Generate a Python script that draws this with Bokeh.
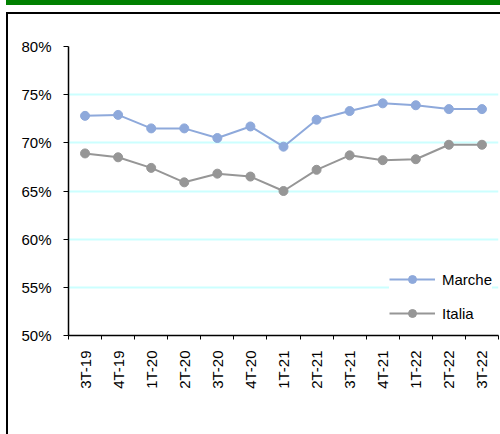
from bokeh.plotting import figure
from bokeh.models import FixedTicker, PrintfTickFormatter, Range1d, Legend, LegendItem
from bokeh.embed import file_html
from bokeh.resources import INLINE
from math import pi

quarters = ["3T-19", "4T-19", "1T-20", "2T-20", "3T-20", "4T-20", "1T-21",
            "2T-21", "3T-21", "4T-21", "1T-22", "2T-22", "3T-22"]
marche = [72.8, 72.9, 71.5, 71.5, 70.5, 71.7, 69.6, 72.4, 73.3, 74.1, 73.9, 73.5, 73.5]
italia = [68.9, 68.5, 67.4, 65.9, 66.8, 66.5, 65.0, 67.2, 68.7, 68.2, 68.3, 69.8, 69.8]
y_ticks = [50, 55, 60, 65, 70, 75, 80]

FONT = "Liberation Sans"
x = [i + 0.5 for i in range(len(quarters))]

p = figure(width=500, height=434, x_range=Range1d(0, len(quarters)), y_range=Range1d(50, 80),
           output_backend="svg", toolbar_location=None,
           min_border_left=68, min_border_right=2, min_border_top=46, min_border_bottom=99)
p.outline_line_color = None
p.background_fill_color = "white"
p.border_fill_color = None

# green title bar and black chart frame drawn as the element's CSS background
p.styles = {
    "background-color": "white",
    "background-image": "linear-gradient(#008000,#008000), linear-gradient(#000,#000), linear-gradient(#000,#000)",
    "background-size": "calc(100% - 6px) 5px, calc(100% - 6px) 2px, 2px calc(100% - 12px)",
    "background-position": "6px 0px, 6px 12px, 6px 12px",
    "background-repeat": "no-repeat",
}

# grid
p.xgrid.grid_line_color = None
p.ygrid.ticker = FixedTicker(ticks=y_ticks[1:])
p.ygrid.grid_line_color = "#CCFFFF"
p.ygrid.grid_line_width = 2

# axes
xa = p.xaxis[0]
xa.ticker = FixedTicker(ticks=x, minor_ticks=list(range(len(quarters) + 1)))
xa.major_label_overrides = {xi: q for xi, q in zip(x, quarters)}
xa.major_tick_line_color = None
xa.minor_tick_line_color = "black"
xa.minor_tick_out = 4
xa.minor_tick_in = 0
xa.major_label_orientation = pi / 2
xa.major_label_standoff = 9
xa.major_label_text_font = FONT
xa.major_label_text_font_size = "15px"
xa.major_label_text_color = "black"
xa.axis_line_color = "black"
xa.axis_line_width = 1.5

ya = p.yaxis[0]
ya.ticker = FixedTicker(ticks=y_ticks)
ya.formatter = PrintfTickFormatter(format="%d%%")
ya.major_tick_out = 5
ya.major_tick_in = 0
ya.minor_tick_line_color = None
ya.major_tick_line_color = "black"
ya.major_label_standoff = 12
ya.major_label_text_font = FONT
ya.major_label_text_font_size = "15px"
ya.major_label_text_color = "black"
ya.axis_line_color = "black"
ya.axis_line_width = 1.5

# series
c_m = "#8EA9DB"
c_i = "#969696"
lm = p.line(x, marche, line_color=c_m, line_width=2)
sm = p.scatter(x, marche, size=9, fill_color=c_m, line_color=c_m)
li = p.line(x, italia, line_color=c_i, line_width=2)
si = p.scatter(x, italia, size=9, fill_color=c_i, line_color=c_i)

lg = Legend(items=[LegendItem(label="Marche", renderers=[lm, sm]),
                   LegendItem(label="Italia", renderers=[li, si])])
lg.location = (321, 12)
lg.padding = 8
lg.margin = 0
lg.border_line_color = None
lg.background_fill_color = "white"
lg.background_fill_alpha = 1
lg.glyph_width = 46
lg.glyph_height = 20
lg.label_height = 20
lg.spacing = 14
lg.label_standoff = 7
lg.label_text_font = FONT
lg.label_text_font_size = "15px"
lg.label_text_color = "black"
p.add_layout(lg, "center")

open("out.html", "w").write(file_html(p, INLINE))
